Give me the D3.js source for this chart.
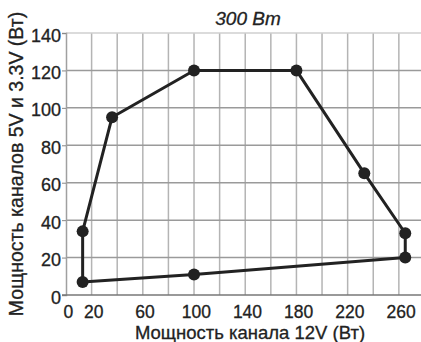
<!DOCTYPE html>
<html><head><meta charset="utf-8">
<script src="https://cdn.jsdelivr.net/npm/d3@7"></script>
<style>body{margin:0;background:#fff}svg{display:block}</style>
</head><body>
<script>
const title = "300 Вт";
const xLabel = "Мощность канала 12V (Вт)";
const yLabel = "Мощность каналов 5V и 3.3V (Вт)";
const xTickLabels = [0, 20, 60, 100, 140, 180, 220, 260];
const xGrid = [20, 40, 60, 80, 100, 120, 140, 160, 180, 200, 220, 240, 260, 280];
const yTicks = [0, 20, 40, 60, 80, 100, 120, 140];
const px12 = [13, 13, 36, 100, 180, 233, 265, 265, 100, 13];
const p5v33 = [7, 34, 95, 120, 120, 65, 33, 20, 11, 7];

const W = 421, H = 342;
const svg = d3.select("body").append("svg").attr("width", W).attr("height", H);
const x = d3.scaleLinear().domain([0, 277.3]).range([66, 421]);
const y = d3.scaleLinear().domain([0, 140]).range([295, 33]);
const font = "'Liberation Sans', Arial, sans-serif";
const ink = "#222";

// vertical grid
svg.append("g").selectAll("line").data(xGrid).join("line")
  .attr("x1", d => x(d)).attr("x2", d => x(d)).attr("y1", y(140)).attr("y2", y(0))
  .attr("stroke", "#b4b4b4").attr("stroke-width", 1.5);
// horizontal grid
svg.append("g").selectAll("line").data(yTicks.filter(d => d > 0)).join("line")
  .attr("x1", x(0)).attr("x2", W).attr("y1", d => y(d)).attr("y2", d => y(d))
  .attr("stroke", d => d === 140 ? "#cfcfcf" : "#9a9a9a").attr("stroke-width", 1.5);

function styleText(sel, size) {
  sel.attr("font-family", font).attr("font-size", size).attr("fill", ink)
    .attr("stroke", ink).attr("stroke-width", 0.3);
}

// y axis
const ya = svg.append("g").attr("transform", `translate(${x(0)},0)`)
  .call(d3.axisLeft(y).tickValues(yTicks).tickSize(4).tickPadding(1));
ya.select(".domain").attr("stroke", "#a0a0a0").attr("stroke-width", 1.5);
ya.selectAll(".tick line").attr("stroke", "#888");
styleText(ya.selectAll("text"), 18);
ya.selectAll("text").attr("dy", "0.45em");

// x axis
const xa = svg.append("g").attr("transform", `translate(0,${y(0)})`)
  .call(d3.axisBottom(x).tickValues(xTickLabels).tickSize(0).tickPadding(0));
xa.select(".domain").attr("stroke", "#777").attr("stroke-width", 1.5).attr("d", `M62,0H${W}`);
styleText(xa.selectAll("text"), 17.5);
xa.selectAll("text").attr("dx", "0.1em").attr("dy", null).attr("y", 23);

// polygon
const line = d3.line().x((d, i) => x(px12[i])).y((d, i) => y(p5v33[i]));
svg.append("path").datum(px12).attr("d", line)
  .attr("fill", "none").attr("stroke", ink).attr("stroke-width", 3).attr("stroke-linejoin", "round");
svg.append("g").selectAll("circle").data(px12.slice(0, -1)).join("circle")
  .attr("cx", (d, i) => x(px12[i])).attr("cy", (d, i) => y(p5v33[i])).attr("r", 6).attr("fill", ink);

// titles
styleText(svg.append("text").attr("x", 248).attr("y", 25).attr("text-anchor", "middle")
  .attr("font-style", "italic").text(title), 19);
styleText(svg.append("text").attr("x", 250).attr("y", 339).attr("text-anchor", "middle").text(xLabel), 18.5);
styleText(svg.append("text").attr("transform", "translate(23,164) rotate(-90)").attr("text-anchor", "middle").text(yLabel), 19.5);
</script>
</body></html>
